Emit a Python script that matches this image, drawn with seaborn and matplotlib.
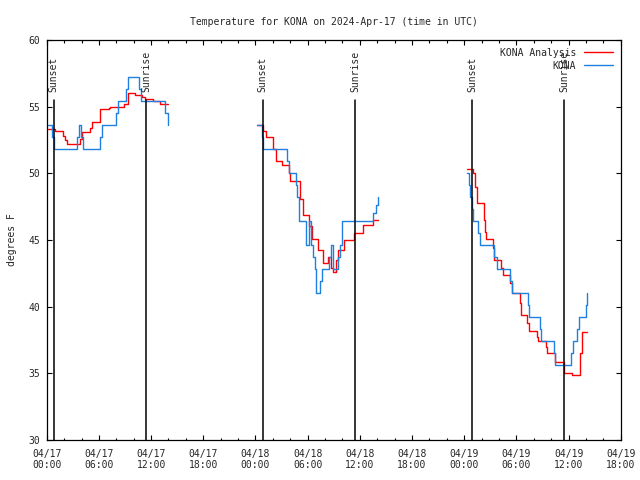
import pandas as pd
import seaborn as sns
import matplotlib.pyplot as plt
import matplotlib.dates as mdates
from matplotlib.lines import Line2D

# hours after 2024-04-17 00:00 UTC, temperatures in degrees F
# KONA analysis (red), three pieces
ana_hours_1 = [0.19, 1.0, 1.92, 2.1, 2.3, 3.77, 4.07, 4.92, 5.19, 6.1, 7.11, 7.3, 8.9, 9.3,
               10.2, 10.95, 11.34, 12.22, 13.07, 13.95]
ana_temps_1 = [53.3, 53.2, 52.8, 52.5, 52.2, 52.6, 53.1, 53.4, 53.85, 54.8, 54.9, 55.0, 55.2, 56.0,
               55.9, 55.7, 55.6, 55.4, 55.2, 55.2]

ana_hours_2 = [24.22, 24.91, 25.18, 26.02, 26.33, 27.1, 27.8, 28.0, 29.14, 29.41, 30.18, 30.45,
               31.14, 31.72, 32.37, 32.68, 32.87, 33.3, 33.52, 34.21, 35.36, 36.33, 37.48, 38.06]
ana_temps_2 = [53.6, 53.2, 52.75, 51.8, 50.9, 50.6, 50.0, 49.4, 48.1, 46.9, 46.05, 45.1,
               44.25, 43.25, 43.7, 42.9, 42.6, 43.5, 44.25, 45.0, 45.55, 46.1, 46.5, 46.5]

ana_hours_3 = [48.36, 49.05, 49.28, 49.43, 50.29, 50.44, 50.52, 51.33, 51.44, 52.28, 52.44, 53.24,
               53.52, 54.39, 54.51, 55.17, 55.43, 56.32, 56.52, 57.36, 57.55, 58.43, 59.43, 60.44,
               61.32, 61.51, 62.17]
ana_temps_3 = [50.3, 50.0, 49.0, 47.8, 46.5, 45.6, 45.1, 44.4, 43.5, 42.9, 42.4, 41.75,
               41.05, 40.25, 39.4, 38.75, 38.2, 37.75, 37.4, 37.0, 36.5, 35.85, 35.05, 34.85,
               36.5, 38.1, 38.1]

# KONA observations (blue), three pieces
obs_hours_1 = [0.19, 0.6, 0.84, 3.53, 3.72, 3.95, 4.12, 6.18, 6.3, 7.95, 8.2, 9.15, 9.3,
               10.6, 10.85, 13.6, 13.9]
obs_temps_1 = [53.6, 52.7, 51.8, 52.7, 53.6, 52.7, 51.8, 52.7, 53.6, 54.5, 55.4, 56.3, 57.2,
               56.3, 55.4, 54.5, 53.6]

obs_hours_2 = [24.22, 24.8, 24.9, 27.68, 27.9, 28.64, 28.8, 29.02, 29.8, 30.1, 30.4, 30.6, 30.8,
               30.95, 31.4, 31.6, 32.5, 32.68, 32.87, 33.5, 33.68, 33.94, 37.55, 37.8, 38.06]
obs_temps_2 = [53.6, 52.7, 51.8, 50.9, 50.0, 49.1, 48.2, 46.4, 44.6, 46.4, 44.6, 43.7, 42.8,
               41.0, 41.9, 42.8, 43.7, 44.6, 42.8, 43.7, 44.6, 46.4, 47.0, 47.6, 48.2]

obs_hours_3 = [48.36, 48.55, 48.71, 48.9, 49.05, 49.6, 49.83, 51.44, 51.74, 53.24, 53.47, 55.28,
               55.43, 56.67, 56.82, 58.32, 58.47, 60.28, 60.51, 60.93, 61.2, 62.01, 62.17]
obs_temps_3 = [50.0, 49.1, 48.2, 47.3, 46.4, 45.5, 44.6, 43.7, 42.8, 41.9, 41.0, 40.1,
               39.2, 38.3, 37.4, 36.5, 35.6, 36.5, 37.4, 38.3, 39.2, 40.1, 41.0]

sunset_hours = [0.8, 24.85, 48.9]
sunrise_hours = [11.42, 35.45, 59.5]

start = pd.Timestamp('2024-04-17 00:00')


def to_time(hours):
    return start + pd.to_timedelta(hours, unit='h')


sns.set_style('ticks')
plt.rcParams['font.family'] = ['DejaVu Sans Mono']
plt.rcParams['font.size'] = 7

red = '#ff0000'
blue = '#1f80e0'

fig = plt.figure(figsize=(6.4, 4.8), dpi=100)
ax = fig.add_axes([0.073, 0.0833, 0.897, 0.8333])

pieces = [(ana_hours_1, ana_temps_1, red), (ana_hours_2, ana_temps_2, red),
          (ana_hours_3, ana_temps_3, red), (obs_hours_1, obs_temps_1, blue),
          (obs_hours_2, obs_temps_2, blue), (obs_hours_3, obs_temps_3, blue)]
for hrs, temps, col in pieces:
    df = pd.DataFrame({'time': to_time(hrs), 'temp': temps})
    sns.lineplot(x='time', y='temp', data=df, color=col, lw=1.0,
                 drawstyle='steps-post', estimator=None, ax=ax)

trans = ax.get_xaxis_transform()
for h in sunset_hours:
    ax.axvline(to_time(h), ymin=0, ymax=0.85, color='black', lw=1.1)
    ax.text(to_time(h), 0.87, 'Sunset', rotation=90, transform=trans,
            ha='center', va='bottom', fontsize=7)
for h in sunrise_hours:
    ax.axvline(to_time(h), ymin=0, ymax=0.85, color='black', lw=1.1)
    ax.text(to_time(h), 0.87, 'Sunrise', rotation=90, transform=trans,
            ha='center', va='bottom', fontsize=7)

ax.set_xlim(start, to_time(66))
ax.set_ylim(30, 60)
ax.set_yticks([30, 35, 40, 45, 50, 55, 60])
ax.xaxis.set_major_locator(mdates.HourLocator(byhour=[0, 6, 12, 18]))
ax.xaxis.set_minor_locator(mdates.HourLocator(byhour=range(0, 24, 2)))
ax.xaxis.set_major_formatter(mdates.DateFormatter('%m/%d\n%H:%M'))

ax.tick_params(which='both', direction='in', top=True, right=True, width=0.8,
               labelsize=7, color='black')
ax.tick_params(which='major', length=3.3)
ax.tick_params(which='minor', length=1.8)
ax.tick_params(axis='x', pad=6.5)
ax.tick_params(axis='y', pad=5)
for s in ax.spines.values():
    s.set_color('black')
    s.set_linewidth(0.9)

ax.set_xlabel('')
ax.set_ylabel('degrees F', fontsize=7)
ax.yaxis.set_label_coords(-0.052, 0.5)
ax.set_title('Temperature for KONA on 2024-Apr-17 (time in UTC)', fontsize=7, pad=11)

# legend text runs into the last Sunrise label, as in the original
handles = [Line2D([], [], color=red, lw=1.0), Line2D([], [], color=blue, lw=1.0)]
ax.legend(handles, ['KONA Analysis', 'KONA'], loc='upper right', frameon=False,
          markerfirst=False, handlelength=3, handletextpad=0.8, labelspacing=0.3,
          fontsize=7, borderaxespad=0.4)

fig.canvas.draw()
for lbl in ax.get_xticklabels():
    lbl.set_linespacing(1.15)

plt.savefig('out.png', dpi=100)
plt.close()
